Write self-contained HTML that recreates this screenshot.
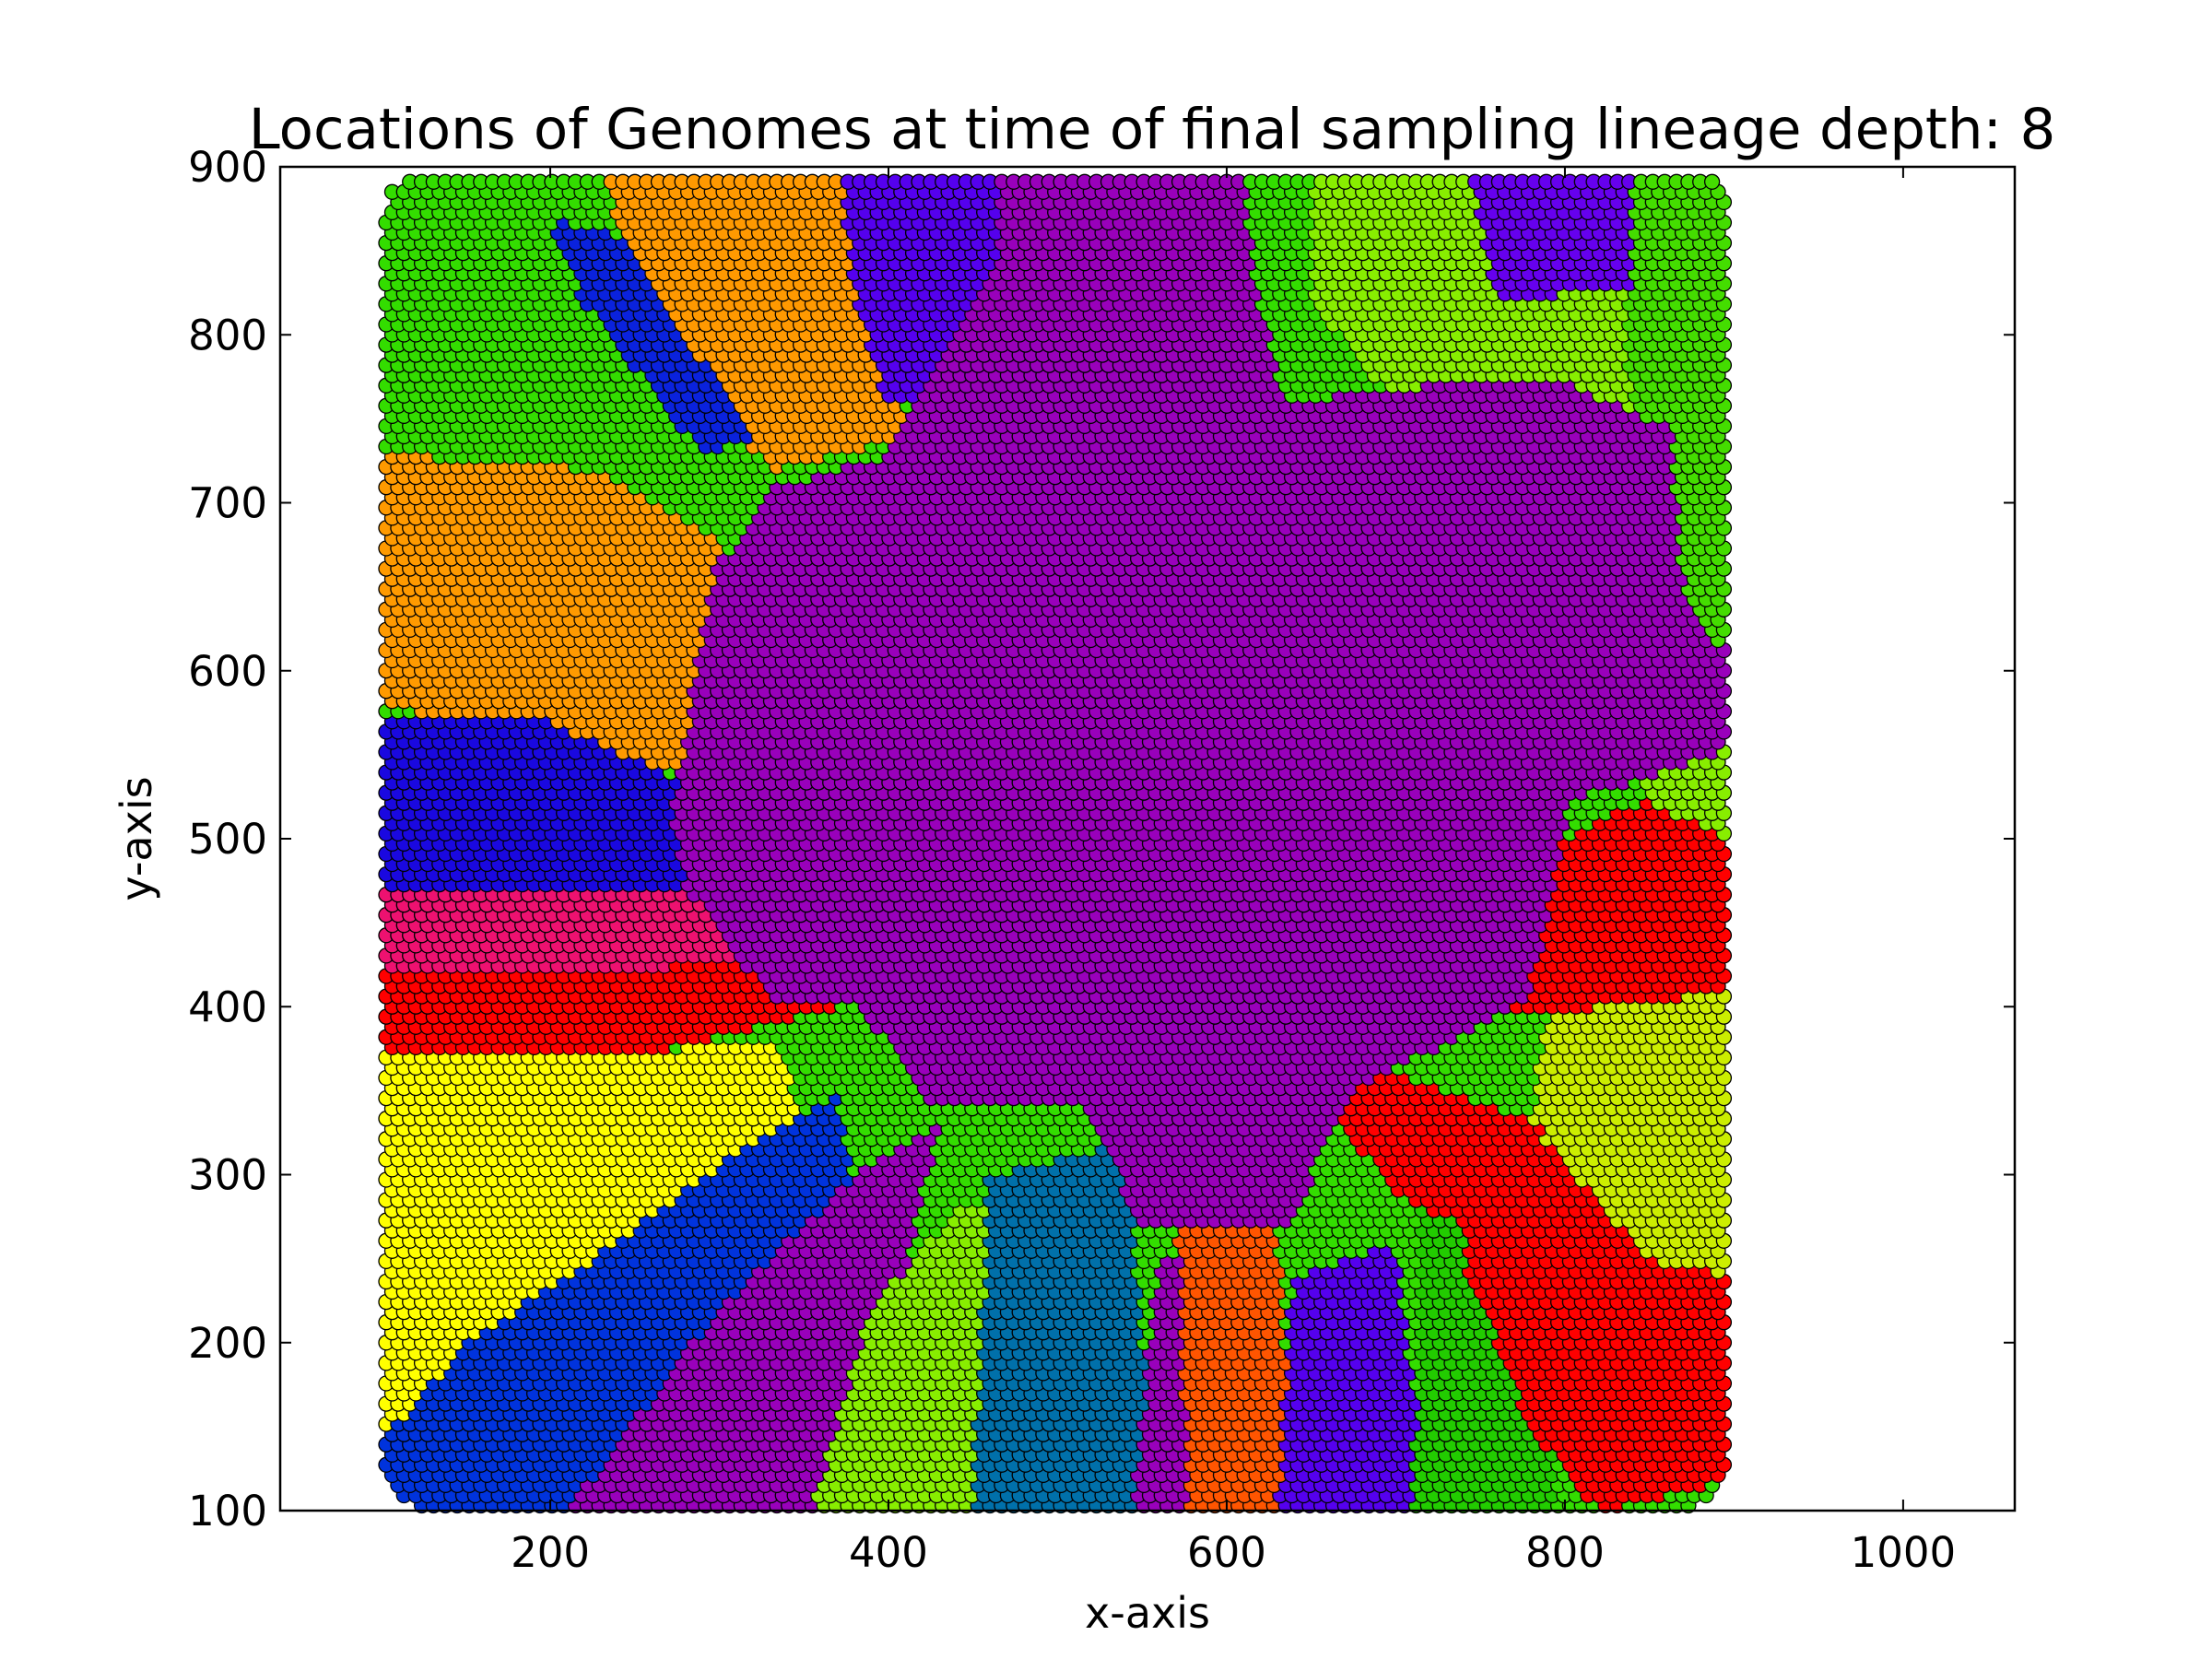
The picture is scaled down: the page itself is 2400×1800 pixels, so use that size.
<!DOCTYPE html>
<html><head><meta charset="utf-8">
<style>
html,body{margin:0;padding:0;background:#fff;}
svg{display:block;font-family:"DejaVu Sans","Liberation Sans",sans-serif;}
</style></head>
<body>
<svg id="chart" width="2400" height="1800" viewBox="0 0 2400 1800">
  <rect x="0" y="0" width="2400" height="1800" fill="#fff"/>
  <text x="1250" y="161" font-size="61" text-anchor="middle">Locations of Genomes at time of final sampling lineage depth: 8</text>
  <g id="pts"></g>
  <g id="axes"></g>
  <text x="1245" y="1766" font-size="46" text-anchor="middle">x-axis</text>
  <text x="164" y="910" font-size="46" text-anchor="middle" transform="rotate(-90 164 910)">y-axis</text>
</svg>
<script>
// axis ranges and ticks
const xDomain = [40.3, 1066];
const yDomain = [100, 900];
const xTicks = [200, 400, 600, 800, 1000];
const yTicks = [100, 200, 300, 400, 500, 600, 700, 800, 900];
// lineage regions: colors and polygon vertices (data units), drawn in order
const regionNames = ["base-green","orange-top","blue-streak","orange-left","blue-left","pink-band","red-band","yellow-left","blue-lower","purple-lower-left","lightgreen-bottom","teal-bottom","purple-bottom","orangered-bottom","violet-bottom","green-bottom","red-bottom-right","yellowgreen-right","red-right","red-lower-mid","lime-top-right","green-right-edge","violet-top-right","violet-top-center","purple-main"];
const regionColors = ["#33dd00","#ff9900","#0a22dd","#ff9a00","#1a08e0","#ee1170","#ff0000","#ffff00","#0033dd","#9900bb","#88ee00","#0070aa","#9900bb","#ff5500","#5500ee","#22cc00","#ff0000","#ccee00","#ff0000","#ff0000","#88ee00","#44dd00","#6600ee","#5500ee","#9900bb"];
const regionPolys = [
 [[100,100],[900,100],[900,900],[100,900]],
 [[230,900],[400,900],[410,740],[330,720],[300,760],[250,830]],
 [[200,870],[240,860],[320,740],[290,730],[220,820]],
 [[100,730],[230,720],[300,680],[310,590],[280,540],[200,560],[100,580]],
 [[100,575],[200,570],[290,530],[300,470],[100,460]],
 [[100,470],[300,470],[380,430],[300,420],[100,420]],
 [[100,420],[300,425],[380,435],[370,400],[250,370],[100,360]],
 [[100,370],[230,372],[330,380],[350,340],[300,290],[230,250],[150,200],[100,140]],
 [[100,140],[150,200],[240,260],[320,320],[370,350],[380,300],[300,220],[220,100],[100,100]],
 [[210,100],[300,220],[380,300],[430,330],[400,200],[360,100]],
 [[355,100],[390,220],[440,280],[470,280],[455,100]],
 [[450,100],[460,300],[540,320],[560,100]],
 [[545,100],[560,250],[590,250],[580,100]],
 [[578,100],[570,300],[630,280],[640,100]],
 [[630,100],[640,240],[700,260],[720,100]],
 [[711,100],[715,280],[790,270],[795,100]],
 [[750,330],[800,330],[900,260],[900,120],[820,100],[780,150],[740,250]],
 [[780,330],[790,400],[900,430],[900,240],[850,250]],
 [[740,400],[760,480],[900,550],[900,410],[820,400]],
 [[650,350],[700,360],[790,330],[780,250],[700,290]],
 [[650,900],[900,900],[900,500],[850,520],[830,640],[800,700],[700,760],[650,820]],
 [[830,900],[900,900],[900,550],[860,600],[840,750]],
 [[745,900],[840,900],[840,830],[760,820]],
 [[373,900],[475,900],[470,770],[400,760],[380,820]],
 [[272,514],[297,659],[331,710],[398,727],[466,846],[466,897],[610,897],[618,829],[635,761],[719,770],[804,770],[863,744],[871,642],[905,600],[905,557],[804,523],[779,404],[677,353],[635,268],[550,268],[517,344],[424,344],[382,404],[331,404],[280,472]]
];
const NS = "http://www.w3.org/2000/svg";
const px0 = 304, px1 = 2186, py0 = 1639, py1 = 181;
function X(v){ return px0 + (v - xDomain[0]) / (xDomain[1] - xDomain[0]) * (px1 - px0); }
function Y(v){ return py0 - (v - yDomain[0]) / (yDomain[1] - yDomain[0]) * (py0 - py1); }
function inPoly(x, y, poly){
  let c = false;
  for (let i = 0, j = poly.length - 1; i < poly.length; j = i++){
    const xi = poly[i][0], yi = poly[i][1], xj = poly[j][0], yj = poly[j][1];
    if (((yi > y) !== (yj > y)) && (x < (xj - xi) * (y - yi) / (yj - yi) + xi)) c = !c;
  }
  return c;
}
const g = document.getElementById('pts');
const step = 7, rPx = 8;
let row = 0;
for (let y = 103; y <= 897; y += step * 0.866, row++){
  for (let x = 103 + (row % 2) * step / 2; x <= 897; x += step){
    const cx = Math.min(Math.max(x, 130), 870), cy = Math.min(Math.max(y, 130), 870);
    if ((x - cx) * (x - cx) + (y - cy) * (y - cy) > 28 * 28) continue;
    let k = -1;
    for (let i = 0; i < regionPolys.length; i++) if (inPoly(x, y, regionPolys[i])) k = i;
    if (k < 0) continue;
    const c = document.createElementNS(NS, 'circle');
    c.setAttribute('cx', X(x).toFixed(1));
    c.setAttribute('cy', Y(y).toFixed(1));
    c.setAttribute('r', rPx);
    c.setAttribute('fill', regionColors[k]);
    c.setAttribute('stroke', '#000');
    c.setAttribute('stroke-width', '1.3');
    
    
    g.appendChild(c);
  }
}
const ax = document.getElementById('axes');
const frame = document.createElementNS(NS, 'rect');
frame.setAttribute('x', px0); frame.setAttribute('y', py1);
frame.setAttribute('width', px1 - px0); frame.setAttribute('height', py0 - py1);
frame.setAttribute('fill', 'none'); frame.setAttribute('stroke', '#000'); frame.setAttribute('stroke-width', '2.5');


ax.appendChild(frame);
function line(x1, y1, x2, y2, name){
  const l = document.createElementNS(NS, 'line');
  l.setAttribute('x1', x1); l.setAttribute('y1', y1); l.setAttribute('x2', x2); l.setAttribute('y2', y2);
  l.setAttribute('stroke', '#000'); l.setAttribute('stroke-width', '2');
  
  
  ax.appendChild(l);
}
function text(x, y, s, anchor, name){
  const t = document.createElementNS(NS, 'text');
  t.setAttribute('x', x); t.setAttribute('y', y); t.setAttribute('font-size', '45');
  t.setAttribute('text-anchor', anchor); t.textContent = s;
  
  
  ax.appendChild(t);
}
xTicks.forEach(v => {
  const x = X(v);
  line(x, py0, x, py0 - 12, 'x-tick');
  line(x, py1, x, py1 + 12, 'x-tick-top');
  text(x, py0 + 61, String(v), 'middle', 'x-tick-label');
});
yTicks.forEach(v => {
  const y = Y(v);
  line(px0, y, px0 + 12, y, 'y-tick');
  line(px1, y, px1 - 12, y, 'y-tick-right');
  text(px0 - 14, y + 16, String(v), 'end', 'y-tick-label');
});
</script>
</body></html>
